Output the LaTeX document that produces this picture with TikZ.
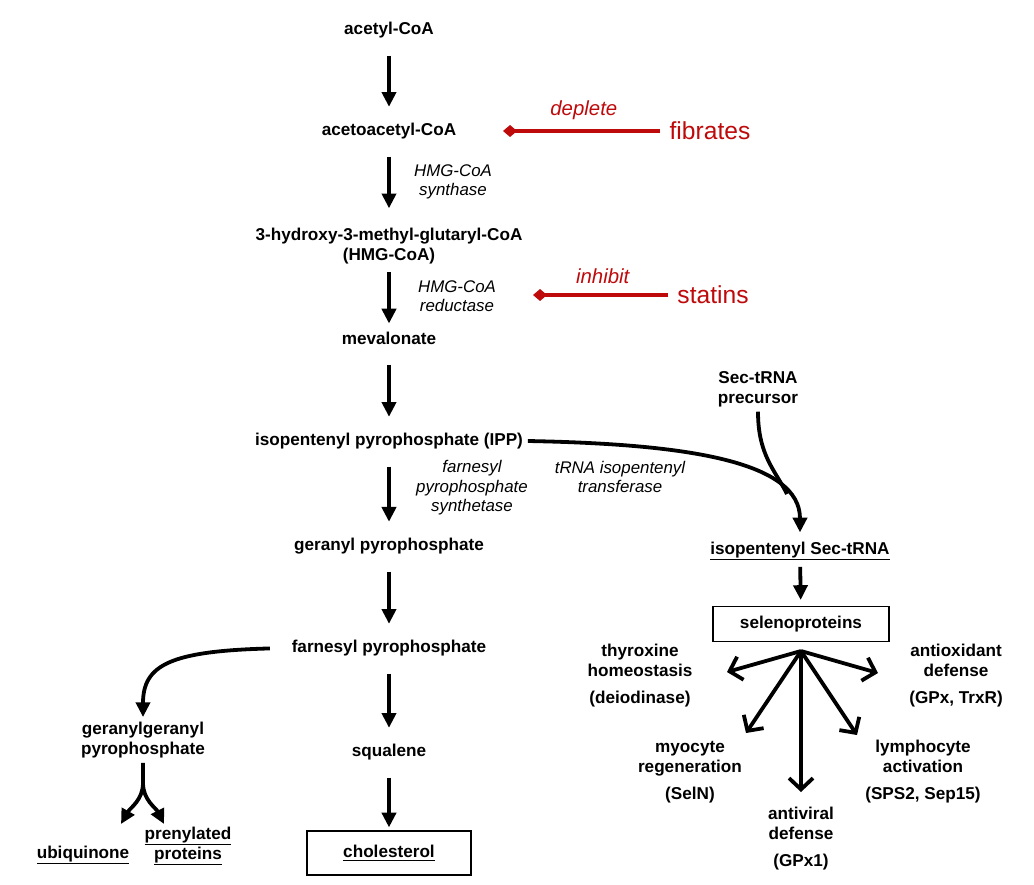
\documentclass[tikz,border=0pt]{standalone}
\usepackage{fontspec}
\setmainfont{Liberation Sans}
\usetikzlibrary{arrows.meta}
\definecolor{drugred}{RGB}{190,10,10}

\tikzset{
  mol/.style={font=\bfseries\fontsize{12.2}{14.2}\selectfont, align=center},
  enz/.style={font=\itshape\fontsize{12}{13.8}\selectfont, align=center},
  drug/.style={font=\fontsize{17.5}{20}\selectfont, text=drugred},
  act/.style={font=\itshape\fontsize{14.5}{17}\selectfont, text=drugred},
  tip/.style={line width=2.7pt, -{Triangle[length=10.5pt,width=10pt]}},
  flow/.style={tip, shorten <=9pt, shorten >=8pt},
  fan/.style={line width=2.7pt, -{Straight Barb[length=8pt,width=17pt]}},
  block/.style={line width=2.8pt, drugred, -{Diamond[length=10pt,width=8.5pt]}},
  bigbox/.style={draw, line width=1.4pt}
}

\begin{document}
\begin{tikzpicture}[x=0.025cm, y=-0.025cm]
    \useasboundingbox (0,0) rectangle (1034,884);

    \node[mol] (acetyl) at (389,30) {acetyl-CoA};
    \node[mol] (acaco) at (389,131) {acetoacetyl-CoA};
    \node[mol] (hmg) at (389,246) {3-hydroxy-3-methyl-glutaryl-CoA\\(HMG-CoA)};
    \node[mol] (meval) at (389,338) {mevalonate};
    \node[mol] (ipp) at (389,441) {isopentenyl pyrophosphate (IPP)};
    \node[mol] (gpp) at (389,546) {geranyl pyrophosphate};
    \node[mol] (fpp) at (389,648) {farnesyl pyrophosphate};
    \node[mol] (squal) at (389,752) {squalene};
    \node[mol, bigbox, minimum width=117pt, minimum height=31pt] (chol) at (389,853) {\underline{cholesterol}};
    \node[mol] (ggpp) at (143,740) {geranylgeranyl\\pyrophosphate};
    \node[mol] (ubiq) at (83,855) {\underline{ubiquinone}};
    \node[mol] (prenyl) at (188,846) {\underline{prenylated}\\\underline{proteins}};

    \node[enz] (synth) at (453,182) {HMG-CoA\\synthase};
    \node[enz] (reduc) at (457,296) {HMG-CoA\\reductase};
    \node[enz] (fpps) at (472,488) {farnesyl\\pyrophosphate\\synthetase};
    \node[enz] (trit) at (620,477) {tRNA isopentenyl\\transferase};

    \node[drug] (fib) at (710,131) {fibrates};
    \node[drug] (stat) at (713,295) {statins};
    \coordinate (fibtip) at (503,131);
    \coordinate (stattip) at (533,295);

    \node[mol] (prec) at (758,389) {Sec-tRNA\\precursor};
    \node[mol] (isosec) at (800,551) {\underline{isopentenyl Sec-tRNA}};
    \node[mol, draw, line width=1.2pt, minimum width=125pt, minimum height=25pt] (seleno) at (801,624) {selenoproteins};

    \node[mol] (thyro) at (640,676) {thyroxine\\homeostasis\\[5pt](deiodinase)};
    \node[mol] (antiox) at (956,676) {antioxidant\\defense\\[5pt](GPx, TrxR)};
    \node[mol] (myo) at (690,772) {myocyte\\regeneration\\[5pt](SelN)};
    \node[mol] (lympho) at (923,772) {lymphocyte\\activation\\[5pt](SPS2, Sep15)};
    \node[mol] (antivir) at (801,839) {antiviral\\defense\\[5pt](GPx1)};

    \draw (acetyl) edge[flow] (acaco) (acaco) edge[flow, shorten >=10.5pt] (hmg) (hmg) edge[flow, shorten <=2pt, shorten >=2.3pt] (meval);
    \draw (meval) edge[flow, shorten <=11pt] (ipp) (ipp) edge[flow] (gpp) (gpp) edge[flow] (fpp) (fpp) edge[flow] (squal) (squal) edge[flow, shorten >=2pt] (chol);
    \draw (isosec) edge[flow, shorten <=1pt, shorten >=4pt] (seleno);

    \draw[block, shorten <=3pt] (fib) -- (fibtip) node[act, midway, above=3pt] (depl) {deplete};
    \draw[block, shorten <=3pt] (stat) -- (stattip) node[act, midway, above=3pt] (inhib) {inhibit};

    \draw[tip, shorten <=12pt] (fpp.west) .. controls (170,651) and (143,665) .. (ggpp.north);
    \coordinate (split) at (143,783);
    \coordinate (tubiq) at (121,824);
    \coordinate (tpren) at (164,824);
    \draw[tip] (ggpp.south) -- (split) .. controls (143,800) and (130,808) .. (tubiq);
    \draw[tip] (split) .. controls (143,800) and (156,808) .. (tpren);

    \coordinate (merge) at (787,494);
    \draw[tip, shorten >=3pt] (ipp.east) .. controls (690,444) and (800,462) .. (isosec.north);
    \draw[line width=2.7pt] (prec.south) .. controls (758,455) and (775,470) .. (merge);

    \coordinate (hub) at (801,651);
    \coordinate (tthyro) at (727,672);
    \coordinate (tantiox) at (878,673);
    \coordinate (tmyo) at (746,733);
    \coordinate (tlympho) at (857,735);
    \coordinate (tantivir) at (801,792);
    \draw (hub) edge[fan] (tthyro) (hub) edge[fan] (tantiox) (hub) edge[fan] (tmyo) (hub) edge[fan] (tlympho) (hub) edge[fan] (tantivir);

\end{tikzpicture}
\end{document}
